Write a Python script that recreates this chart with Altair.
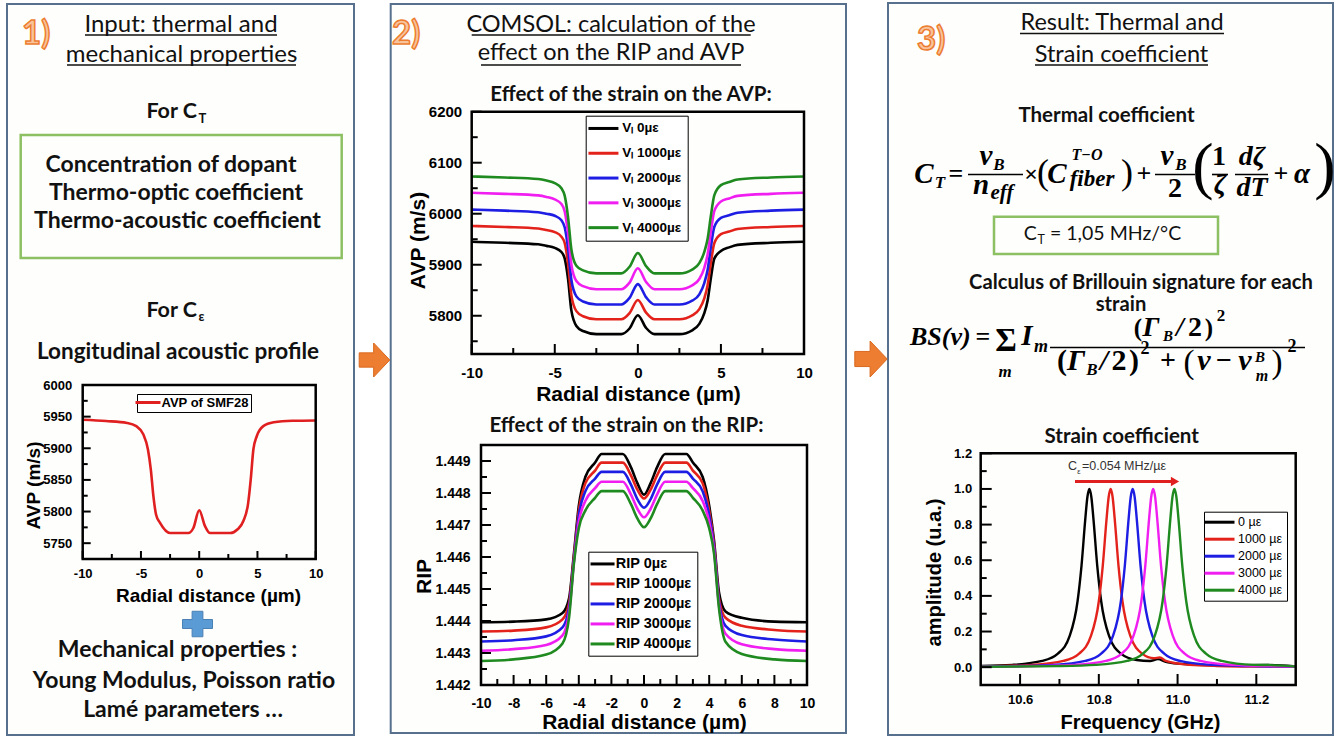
import altair as alt
import pandas as pd

W, H = 1343, 738
HEAD = "Lato"
AXF = "Liberation Sans"
MATH = "Liberation Serif"

# ---------------- DATA ----------------
# Panel 1: acoustic velocity profile of SMF28
smf_x = [-10, -8, -6.2, -5.4, -4.8, -4.4, -4.15, -3.93, -3.7, -3.36, -2.5, -0.93, -0.5, 0,
         0.5, 0.93, 2.65, 3.3, 3.79, 4.2, 4.42, 4.65, 4.94, 5.5, 6.4, 8, 10]
smf_avp = [5945, 5943, 5940, 5935, 5922, 5898, 5866, 5824, 5795, 5782, 5766, 5766, 5774, 5802,
           5777, 5766, 5766, 5772, 5785, 5813, 5850, 5898, 5919, 5935, 5941, 5943.5, 5944]

# Panel 2 top: AVP for each strain
avp_x = [-10, -8, -6, -5.5, -5, -4.6, -4.4, -4.2, -4, -3.7, -3.3, -2.5, -1, -0.5, 0, 0.5, 1,
         2.5, 3.3, 3.7, 4, 4.2, 4.4, 4.6, 5, 5.5, 6, 8, 10]
avp_0 = [5945, 5943, 5940, 5937, 5933, 5925, 5912, 5872, 5810, 5780, 5770, 5764, 5764, 5775, 5801,
         5776, 5764, 5764, 5772, 5784, 5805, 5830, 5875, 5912, 5927, 5934, 5939, 5943, 5945]
avp_1000 = [5976, 5974, 5971, 5968, 5964, 5955, 5942, 5902, 5840, 5809, 5799, 5793, 5793, 5805, 5831,
            5806, 5793, 5793, 5801, 5813, 5834, 5860, 5905, 5942, 5960, 5965, 5970, 5974, 5976]
avp_2000 = [6008, 6006, 6003, 6000, 5996, 5987, 5973, 5932, 5870, 5838, 5828, 5822, 5822, 5835, 5862,
            5836, 5822, 5822, 5830, 5842, 5864, 5890, 5936, 5974, 5992, 5997, 6002, 6006, 6008]
avp_3000 = [6041, 6039, 6036, 6033, 6028, 6019, 6004, 5962, 5900, 5868, 5858, 5852, 5852, 5865, 5893,
            5866, 5852, 5852, 5860, 5872, 5894, 5920, 5966, 6005, 6024, 6030, 6035, 6039, 6041]
avp_4000 = [6073, 6071, 6068, 6065, 6060, 6050, 6035, 5993, 5930, 5898, 5889, 5883, 5883, 5896, 5923,
            5897, 5883, 5883, 5891, 5903, 5925, 5951, 5997, 6036, 6056, 6062, 6067, 6071, 6073]
avp_names = ["V\u2097 0\u00b5\u03b5", "V\u2097 1000\u00b5\u03b5", "V\u2097 2000\u00b5\u03b5",
             "V\u2097 3000\u00b5\u03b5", "V\u2097 4000\u00b5\u03b5"]

# Panel 2 bottom: RIP for each strain
rip_x = [-10, -8, -6, -5, -4.6, -4.3, -4, -3.6, -3, -2.6, -1.3, -0.8, -0.4, 0, 0.4, 0.8, 1.3, 2.6,
         3, 3.6, 4, 4.3, 4.6, 5, 6, 8, 10]
rip_0 = [1.44396, 1.44398, 1.44405, 1.44425, 1.44470, 1.44610, 1.44760, 1.44850, 1.44895, 1.44922,
         1.44922, 1.44880, 1.44830, 1.44795, 1.44830, 1.44880, 1.44922, 1.44922, 1.44895, 1.44850,
         1.44760, 1.44650, 1.44490, 1.44430, 1.44410, 1.44398, 1.44396]
rip_1000 = [1.44367, 1.44370, 1.44380, 1.44405, 1.44455, 1.44600, 1.44745, 1.44830, 1.44870, 1.44895,
            1.44895, 1.44855, 1.44810, 1.44783, 1.44810, 1.44855, 1.44895, 1.44895, 1.44870, 1.44830,
            1.44745, 1.44640, 1.44470, 1.44410, 1.44385, 1.44372, 1.44367]
rip_2000 = [1.44336, 1.44340, 1.44352, 1.44380, 1.44440, 1.44590, 1.44730, 1.44805, 1.44845, 1.44866,
            1.44866, 1.44826, 1.44780, 1.44754, 1.44780, 1.44826, 1.44866, 1.44866, 1.44845, 1.44805,
            1.44730, 1.44630, 1.44460, 1.44385, 1.44356, 1.44342, 1.44336]
rip_3000 = [1.44307, 1.44312, 1.44325, 1.44355, 1.44425, 1.44585, 1.44710, 1.44775, 1.44815, 1.44835,
            1.44835, 1.44795, 1.44750, 1.44724, 1.44750, 1.44795, 1.44835, 1.44835, 1.44815, 1.44775,
            1.44710, 1.44620, 1.44450, 1.44360, 1.44327, 1.44312, 1.44307]
rip_4000 = [1.44275, 1.44280, 1.44295, 1.44330, 1.44410, 1.44580, 1.44690, 1.44745, 1.44785, 1.44806,
            1.44806, 1.44765, 1.44720, 1.44693, 1.44720, 1.44765, 1.44806, 1.44806, 1.44785, 1.44745,
            1.44690, 1.44610, 1.44440, 1.44335, 1.44297, 1.44280, 1.44275]
rip_names = ["RIP 0\u00b5\u03b5", "RIP 1000\u00b5\u03b5", "RIP 2000\u00b5\u03b5",
             "RIP 3000\u00b5\u03b5", "RIP 4000\u00b5\u03b5"]

# Panel 3: Brillouin spectra
bs_names = ["0 \u00b5\u03b5", "1000 \u00b5\u03b5", "2000 \u00b5\u03b5", "3000 \u00b5\u03b5", "4000 \u00b5\u03b5"]
bs0_f = [10.5, 10.58, 10.656, 10.696, 10.726, 10.746, 10.756, 10.766, 10.771, 10.776, 10.781, 10.786,
         10.796, 10.806, 10.826, 10.856, 10.896, 10.93, 10.95, 10.97, 11.0, 11.1, 11.23, 11.3]
bs0_a = [0.007, 0.013, 0.035, 0.076, 0.175, 0.37, 0.569, 0.841, 0.955, 1.0, 0.955, 0.841,
         0.569, 0.37, 0.175, 0.076, 0.04, 0.035, 0.045, 0.03, 0.02, 0.01, 0.012, 0.004]
bs1_f = [10.5, 10.63, 10.71, 10.75, 10.78, 10.80, 10.81, 10.82, 10.825, 10.83, 10.835, 10.84, 10.85,
         10.86, 10.88, 10.91, 10.94, 10.955, 10.97, 11.03, 11.1, 11.3]
bs1_a = [0.004, 0.013, 0.035, 0.076, 0.175, 0.37, 0.569, 0.841, 0.955, 1.0, 0.955, 0.841, 0.569,
         0.37, 0.175, 0.076, 0.05, 0.055, 0.035, 0.013, 0.007, 0.002]
bs2_f = [10.5, 10.686, 10.766, 10.806, 10.836, 10.856, 10.866, 10.876, 10.881, 10.886, 10.891, 10.896,
         10.906, 10.916, 10.936, 10.966, 11.006, 11.086, 11.186, 11.3]
bs2_a = [0.003, 0.013, 0.035, 0.076, 0.175, 0.37, 0.569, 0.841, 0.955, 1.0, 0.955, 0.841,
         0.569, 0.37, 0.175, 0.076, 0.035, 0.013, 0.006, 0.003]
bs3_f = [10.5, 10.638, 10.738, 10.818, 10.858, 10.888, 10.908, 10.918, 10.928, 10.933, 10.938, 10.943,
         10.948, 10.958, 10.968, 10.988, 11.018, 11.058, 11.138, 11.238, 11.3]
bs3_a = [0.002, 0.006, 0.013, 0.035, 0.076, 0.175, 0.37, 0.569, 0.841, 0.955, 1.0, 0.955,
         0.841, 0.569, 0.37, 0.175, 0.076, 0.035, 0.013, 0.006, 0.004]
bs4_f = [10.5, 10.692, 10.792, 10.872, 10.912, 10.942, 10.962, 10.972, 10.982, 10.987, 10.992, 10.997,
         11.002, 11.012, 11.022, 11.042, 11.072, 11.112, 11.192, 11.23, 11.3]
bs4_a = [0.002, 0.006, 0.013, 0.035, 0.076, 0.175, 0.37, 0.569, 0.841, 0.955, 1.0, 0.955,
         0.841, 0.569, 0.37, 0.175, 0.076, 0.035, 0.013, 0.012, 0.004]

STRAIN_COLORS = ["#000000", "#e3221b", "#1d1de3", "#f01ef0", "#1f8a1f"]


def long_df(xs, ys_list, names):
    rows = []
    for n, xv, yv in zip(names, xs, ys_list):
        for a, b in zip(xv, yv):
            rows.append({"x": a, "y": b, "series": n})
    return pd.DataFrame(rows)


def framed(df, names, colors, xdom, ydom, left, right, bottom, top,
           xmaj, xmin, ymaj, ymin, xfmt, yfmt, lab_fs, xlab_pad, ylab_pad,
           xtitle, xt_fs, xt_x, xt_base, ytitle, yt_fs, yt_x, yt_y, legend,
           lw=2.6, big=10, small=6):
    xs = alt.Scale(domain=xdom, range=[left, right], nice=False, zero=False)
    ys = alt.Scale(domain=ydom, range=[bottom, top], nice=False, zero=False)
    x_lab = alt.Axis(orient="bottom", offset=bottom - H, values=xmaj, format=xfmt, ticks=False,
                     tickSize=0, domain=False, grid=False, labelFont=AXF, labelFontSize=lab_fs,
                     labelFontWeight="bold", labelColor="black", labelPadding=xlab_pad,
                     labelFlush=False, labelOverlap=False, zindex=2,
                     labelExpr="replace(datum.label, '\u2212', '-')",
                     title=xtitle, titleFont=AXF, titleFontSize=xt_fs, titleFontWeight="bold",
                     titleColor="black", titleX=xt_x, titleY=xt_base - bottom,
                     titleBaseline="alphabetic")
    y_lab = alt.Axis(orient="left", offset=-left, values=ymaj, format=yfmt, ticks=False,
                     tickSize=0, domain=False, grid=False, labelFont=AXF, labelFontSize=lab_fs,
                     labelFontWeight="bold", labelColor="black", labelPadding=ylab_pad,
                     labelFlush=False, labelOverlap=False, zindex=2,
                     title=ytitle, titleFont=AXF, titleFontSize=yt_fs, titleFontWeight="bold",
                     titleColor="black", titleX=yt_x - left, titleY=yt_y, titleAngle=270,
                     titleBaseline="alphabetic")
    line = alt.Chart(df).mark_line(strokeWidth=lw, interpolate="monotone").encode(
        x=alt.X("x:Q", scale=xs, axis=x_lab),
        y=alt.Y("y:Q", scale=ys, axis=y_lab),
        color=alt.Color("series:N", scale=alt.Scale(domain=names, range=colors), legend=legend),
    )
    fr = pd.DataFrame({"x0": [xdom[0]], "x1": [xdom[1]], "y0": [ydom[0]], "y1": [ydom[1]]})
    frame = alt.Chart(fr).mark_rect(fillOpacity=0, stroke="black", strokeWidth=2.5).encode(
        x=alt.X("x0:Q", scale=xs, axis=None), x2="x1:Q",
        y=alt.Y("y0:Q", scale=ys, axis=None), y2="y1:Q",
    )
    parts = [line, frame]
    # inward ticks: short segments whose ends are expressed in data units and go through the scales
    per_px_y = (ydom[1] - ydom[0]) / float(bottom - top)
    per_px_x = (xdom[1] - xdom[0]) / float(right - left)
    xt_rows = [{"tx": v, "ya": ydom[0], "yb": ydom[0] + big * per_px_y} for v in xmaj] + \
              [{"tx": v, "ya": ydom[0], "yb": ydom[0] + small * per_px_y} for v in xmin]
    yt_rows = [{"ty": v, "xa": xdom[0], "xb": xdom[0] + big * per_px_x} for v in ymaj] + \
              [{"ty": v, "xa": xdom[0], "xb": xdom[0] + small * per_px_x} for v in ymin]
    parts.append(alt.Chart(pd.DataFrame(xt_rows)).mark_rule(color="black", strokeWidth=2).encode(
        x=alt.X("tx:Q", scale=xs, axis=None),
        y=alt.Y("ya:Q", scale=ys, axis=None), y2="yb:Q"))
    parts.append(alt.Chart(pd.DataFrame(yt_rows)).mark_rule(color="black", strokeWidth=2).encode(
        y=alt.Y("ty:Q", scale=ys, axis=None),
        x=alt.X("xa:Q", scale=xs, axis=None), x2="xb:Q"))
    return alt.layer(*parts).resolve_axis(x="independent", y="independent")


def leg(x, y, fs, weight, length, row_pad, pad=5):
    k = length / 10.0
    return alt.Legend(orient="none", legendX=x, legendY=y, title=None,
                      symbolType="M-%g,0L%g,0" % (k, k), symbolSize=100, symbolStrokeWidth=3,
                      symbolOffset=length / 2.0 - 10, labelOffset=length - 20 + 2,
                      labelFont=AXF, labelFontSize=fs, labelFontWeight=weight, labelColor="black",
                      strokeColor="black", fillColor="white", padding=pad, rowPadding=row_pad)


def texts(rows, font, weight="normal", style="normal", align="left", color="#111111", **kw):
    df = pd.DataFrame(rows, columns=["px", "py", "t", "fs"])
    return alt.Chart(df).mark_text(font=font, fontWeight=weight, fontStyle=style, align=align,
                                   baseline="alphabetic", color=color, **kw).encode(
        x=alt.X("px:Q", scale=None, axis=None),
        y=alt.Y("py:Q", scale=None, axis=None),
        text="t:N",
        size=alt.Size("fs:Q", scale=None, legend=None),
    )


def rects(rows, **kw):
    df = pd.DataFrame(rows, columns=["a", "b", "c", "d"])
    return alt.Chart(df).mark_rect(**kw).encode(
        x=alt.X("a:Q", scale=None, axis=None), x2="b:Q",
        y=alt.Y("c:Q", scale=None, axis=None), y2="d:Q")


def rules(rows, **kw):
    df = pd.DataFrame(rows, columns=["a", "b", "c"])
    return alt.Chart(df).mark_rule(**kw).encode(
        x=alt.X("a:Q", scale=None, axis=None), x2="b:Q",
        y=alt.Y("c:Q", scale=None, axis=None))


layers = []

# panels and boxes
layers.append(rects([(7, 354, 4, 735), (390.7, 846, 4, 733), (888, 1333, 3, 735)],
                    fill="#fefefc", stroke="#56708e", strokeWidth=2))
layers.append(rects([(20.7, 341.7, 135, 258), (994, 1218, 216.7, 254)],
                    fillOpacity=0, stroke="#8dc063", strokeWidth=2.5))

# headers (underlined)
layers.append(texts([
    (181, 32.3, "Input: thermal and", 24), (181.5, 62.3, "mechanical properties", 24),
    (611, 31.7, "COMSOL: calculation of the", 23.5), (611, 60, "effect on the RIP and AVP", 23.5),
    (1122, 30, "Result: Thermal and", 23.5), (1121.5, 61.7, "Strain coefficient", 23.5),
], HEAD, align="center"))
layers.append(rules([
    (85, 277, 35), (67, 296, 65), (471.7, 750.7, 35), (481, 741, 65),
    (1020, 1224, 33.5), (1035, 1208, 65),
], color="#111111", strokeWidth=1.5))

# step numbers
layers.append(texts([(22, 44, "1)", 33), (392, 44, "2)", 33), (917, 50, "3)", 33)],
                    HEAD, weight="bold", fill="#f8c49c", stroke="#ed7d31", strokeWidth=1.5))

# bold texts, panel 1 and titles
layers.append(texts([
    (171, 171.7, "Concentration of dopant", 23), (176, 200, "Thermo-optic coefficient", 23),
    (177.5, 228.3, "Thermo-acoustic coefficient", 23), (178, 359, "Longitudinal acoustic profile", 22.5),
    (177.5, 656.7, "Mechanical properties :", 23), (184, 688.3, "Young Modulus, Poisson ratio", 23),
    (183, 716.7, "Lam\u00e9 parameters \u2026", 23),
    (631, 100.7, "Effect of the strain on the AVP:", 20.5), (626.5, 431.7, "Effect of the strain on the RIP:", 20.5),
    (1106.5, 121.7, "Thermal coefficient", 20.5), (1141, 289, "Calculus of Brillouin signature for each", 20.2),
    (1121, 311, "strain", 20.2), (1121.7, 443.3, "Strain coefficient", 20.5),
], HEAD, weight="bold", align="center"))
layers.append(texts([(197, 118.3, "For C", 21.5), (197, 316.6, "For C", 21.5)],
                    HEAD, weight="bold", align="right"))
layers.append(texts([(198.5, 122.5, "T", 13), (198.5, 320.5, "\u03b5", 13)],
                    HEAD, weight="bold", align="left"))
# C_T box
layers.append(texts([(1036.7, 240, "C", 19.5)], HEAD, align="right"))
layers.append(texts([(1037.5, 244, "T", 12.5), (1050, 240, "= 1,05 MHz/\u00b0C", 19.5)], HEAD, align="left"))

# arrows and plus
arrow_path = "M-0.9,-0.42 L-0.05,-0.42 L-0.05,-1 L0.9,0 L-0.05,1 L-0.05,0.42 L-0.9,0.42 Z"
arr = pd.DataFrame({"px": [374.5, 871], "py": [360, 359], "sz": [1156, 1296]})
layers.append(alt.Chart(arr).mark_point(shape=arrow_path, filled=True, fill="#ed7d31",
                                        stroke="#d9691f", strokeWidth=1, opacity=1).encode(
    x=alt.X("px:Q", scale=None, axis=None), y=alt.Y("py:Q", scale=None, axis=None),
    size=alt.Size("sz:Q", scale=None, legend=None)))
plus_path = ("M-0.36,-0.85 L0.36,-0.85 L0.36,-0.3 L1,-0.3 L1,0.3 L0.36,0.3 L0.36,0.85 "
             "L-0.36,0.85 L-0.36,0.3 L-1,0.3 L-1,-0.3 L-0.36,-0.3 Z")
pl = pd.DataFrame({"px": [197.5], "py": [624], "sz": [900]})
layers.append(alt.Chart(pl).mark_point(shape=plus_path, filled=True, fill="#5b9bd5",
                                       stroke="#4a80b4", strokeWidth=1, opacity=1).encode(
    x=alt.X("px:Q", scale=None, axis=None), y=alt.Y("py:Q", scale=None, axis=None),
    size=alt.Size("sz:Q", scale=None, legend=None)))

# ---------------- equations ----------------
# bold italic symbols (x, baseline y, text, size)
layers.append(texts([
    (924, 183, "C", 29), (940, 188, "T", 17),
    (986, 165, "\u03bd", 29), (999, 170, "B", 17),
    (981, 194, "n", 29), (1002, 199, "eff", 21),
    (1057, 183, "C", 29), (1087, 160, "T\u2212O", 16), (1092, 186, "fiber", 23),
    (1167, 165, "\u03bd", 29), (1181, 170, "B", 17),
    (1220, 193, "\u03b6", 28), (1252, 165, "d\u03b6", 28), (1252, 196, "dT", 28), (1302, 183, "\u03b1", 29),
    (1027, 345, "I", 29), (1041, 352, "m", 18), (1005, 377, "m", 17),
    (1151, 336, "\u0393", 28), (1168, 341, "B", 15), (1180, 336, "/", 28),
    (1076, 370, "\u0393", 30), (1092, 375, "B", 17), (1104, 370, "/", 30),
    (1204, 370, "\u03bd", 30), (1245, 370, "\u03bd", 30), (1260, 362, "B", 15), (1262, 381, "m", 16),
], MATH, weight="bold", style="italic", align="center", color="black"))
layers.append(texts([(910, 345, "BS(\u03bd)", 26)], MATH, weight="bold", style="italic", color="black"))
# upright bold
layers.append(texts([
    (956, 182, "=", 26), (1031, 182, "\u00d7", 24), (1144, 182, "+", 26), (1175, 197, "2", 28),
    (1219, 165, "1", 28), (1281, 182, "+", 26),
    (983, 345, "=", 26), (1006, 351, "\u03a3", 33),
    (1138, 336, "(", 25), (1195, 336, "2", 28), (1209, 336, ")", 25), (1221, 321, "2", 17),
    (1062, 370, "(", 30), (1119, 370, "2", 30), (1134, 370, ")", 30), (1145, 354, "2", 18),
    (1168, 369, "+", 28), (1224, 369, "\u2212", 28), (1292, 352, "2", 18),
], MATH, weight="bold", align="center", color="black"))
# parentheses (thin)
layers.append(texts([
    (1043, 184, "(", 36), (1127, 184, ")", 36), (1203, 187, "(", 64), (1325, 187, ")", 64),
    (1189, 373, "(", 33), (1277, 373, ")", 33),
], MATH, align="center", color="black"))
layers.append(rules([
    (968, 1023, 174.5), (1155, 1195, 174.5), (1212, 1228, 174.5), (1235, 1268, 174.5),
    (1050, 1305, 347.5),
], color="black", strokeWidth=1.6))

# ---------------- charts ----------------
X20_MAJ = [-10, -5, 0, 5, 10]
X20_MIN = [-7.5, -2.5, 2.5, 7.5]

c1 = framed(long_df([smf_x], [smf_avp], ["AVP of SMF28"]), ["AVP of SMF28"], ["#e02020"],
            [-10, 10], [5725, 6000], 82.7, 315.7, 559, 385,
            X20_MAJ, X20_MIN, [5750, 5800, 5850, 5900, 5950, 6000], [5775, 5825, 5875, 5925, 5975],
            "d", "d", 13, 8, 11,
            "Radial distance (\u00b5m)", 19, 208, 601.7, "AVP (m/s)", 19, 39.5, 485,
            leg(137, 394, 13, "bold", 25, 0, pad=2), big=8, small=5)

c2 = framed(long_df([avp_x] * 5, [avp_0, avp_1000, avp_2000, avp_3000, avp_4000], avp_names),
            avp_names, STRAIN_COLORS, [-10, 10], [5725, 6200], 471.7, 804, 354, 111.7,
            X20_MAJ, X20_MIN, [5800, 5900, 6000, 6100, 6200], [5750, 5850, 5950, 6050, 6150],
            "d", "d", 15, 11, 10,
            "Radial distance (\u00b5m)", 21, 638, 400, "AVP (m/s)", 21, 424, 240,
            leg(585.7, 115.7, 13.5, "bold", 30, 9.8, pad=6), big=10, small=6)

rip_ymaj = [1.442, 1.443, 1.444, 1.445, 1.446, 1.447, 1.448, 1.449]
rip_ymin = [1.4425, 1.4435, 1.4445, 1.4455, 1.4465, 1.4475, 1.4485]
c3 = framed(long_df([rip_x] * 5, [rip_0, rip_1000, rip_2000, rip_3000, rip_4000], rip_names),
            rip_names, STRAIN_COLORS, [-10, 10], [1.442, 1.4495], 481, 807, 685, 445,
            [-10, -8, -6, -4, -2, 0, 2, 4, 6, 8, 10], [-9, -7, -5, -3, -1, 1, 3, 5, 7, 9],
            rip_ymaj, rip_ymin, "d", ".3f", 14, 11, 11,
            "Radial distance (\u00b5m)", 21, 644, 728.3, "RIP", 21, 430, 576,
            leg(588.3, 551.7, 14.5, "bold", 24, 5, pad=5), big=10, small=6)

c4 = framed(long_df([bs0_f, bs1_f, bs2_f, bs3_f, bs4_f], [bs0_a, bs1_a, bs2_a, bs3_a, bs4_a], bs_names),
            bs_names, STRAIN_COLORS, [10.5, 11.3], [-0.1, 1.2], 980.7, 1295.7, 685, 453.3,
            [10.6, 10.8, 11.0, 11.2], [10.7, 10.9, 11.1],
            [0.0, 0.2, 0.4, 0.6, 0.8, 1.0, 1.2], [0.1, 0.3, 0.5, 0.7, 0.9, 1.1],
            ".1f", ".1f", 13, 8, 9,
            "Frequency (GHz)", 20, 1140, 728.3, "amplitude (u.a.)", 20, 940, 572,
            leg(1204, 511.7, 12.5, "normal", 30, 4, pad=4), lw=2.4, big=11, small=6)

layers += [c1, c2, c3, c4]

# strain coefficient annotation
layers.append(texts([(1077, 470, "C", 12.5)], AXF, align="right", color="#333333"))
layers.append(texts([(1082, 470, "=0.054 MHz/\u00b5\u03b5", 12.5)], AXF, color="#333333"))
layers.append(texts([(1077.3, 473.5, "\u03b5", 7.5)], AXF, color="#333333"))
layers.append(rules([(1075, 1172, 481.5)], color="#e02020", strokeWidth=3))
tri = pd.DataFrame({"px": [1175], "py": [481.5]})
layers.append(alt.Chart(tri).mark_point(shape="triangle-right", filled=True, size=90, color="#e02020",
                                        opacity=1).encode(
    x=alt.X("px:Q", scale=None, axis=None), y=alt.Y("py:Q", scale=None, axis=None)))

chart = alt.layer(*layers).resolve_scale(
    x="independent", y="independent", color="independent", size="independent"
).resolve_axis(x="independent", y="independent").resolve_legend(
    color="independent", size="independent"
).properties(
    width=W, height=H, autosize=alt.AutoSizeParams(type="none"), padding=0, background="white"
).configure_view(strokeWidth=0)

chart.save("out.html", embed_options={"renderer": "svg", "actions": False})
